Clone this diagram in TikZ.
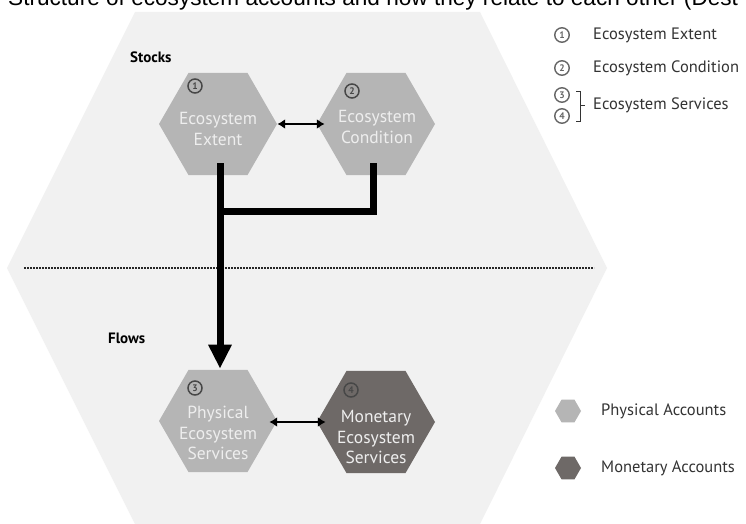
\documentclass[tikz,border=0pt]{standalone}
\usepackage{fontspec}
\setmainfont{PT Sans}
\newfontfamily\titlefont{Liberation Sans}
\usetikzlibrary{shapes.geometric,arrows.meta,calc}
\definecolor{bgcol}{HTML}{F1F1F1}
\definecolor{physcol}{HTML}{B5B5B5}
\definecolor{moncol}{HTML}{6E6967}
\definecolor{numcol}{HTML}{474747}
\definecolor{legnum}{HTML}{666666}
\definecolor{txtcol}{HTML}{333333}
\definecolor{intxt}{HTML}{EEEEEE}
\tikzset{
  hexphys/.style={regular polygon, regular polygon sides=6, minimum size=118pt, inner sep=0pt, fill=physcol, draw=none},
  hexmon/.style={hexphys, fill=moncol},
  hexleg/.style={regular polygon, regular polygon sides=6, minimum size=26pt, inner sep=0pt, draw=none},
  hextext/.style={text=intxt, font=\fontsize{17.5}{20.5}\selectfont, align=center, inner sep=0pt},
  numc/.style={circle, draw=numcol, line width=1.5pt, inner sep=0pt, minimum size=14pt, text=numcol, font=\fontsize{9.5}{10}\selectfont\bfseries},
  legc/.style={numc, draw=legnum, text=legnum, line width=1.4pt, minimum size=14.5pt, font=\fontsize{9.5}{10}\selectfont\bfseries},
  legtext/.style={anchor=west, text=txtcol, font=\fontsize{16.5}{18}\selectfont, inner sep=0pt},
  headtext/.style={anchor=west, text=black, font=\fontsize{15}{17}\selectfont\bfseries, inner sep=0pt},
  dbl/.style={line width=2.6pt, {Latex[length=8pt,width=10pt]}-{Latex[length=8pt,width=10pt]}},
  thickline/.style={line width=7pt, line join=miter},
  sepline/.style={line width=2pt, dash pattern=on 2pt off 1pt, color=black!85}
}
\begin{document}
\begin{tikzpicture}[x=1pt,y=-1pt]
\useasboundingbox (0,0) rectangle (746,524);
\fill[white] (0,0) rectangle (746,524);
% title (cut off at the top edge, as in the reference)
\node[anchor=base west, inner sep=0pt, font=\titlefont\fontsize{22.6}{25}\selectfont] (title) at (8,6) {Structure of ecosystem accounts and how they relate to each other (Dest};
% large background hexagon
\fill[bgcol] (7,268) -- (135,12) -- (480,12) -- (607,268) -- (480,524) -- (135,524) -- cycle;
% separator
\coordinate (sepL) at (24,268);
\coordinate (sepR) at (594,268);
\draw[sepline] (sepL) -- (sepR);
% headings
\node[headtext] (stocks) at (130,57) {Stocks};
\node[headtext] (flows) at (108,338) {Flows};
% hexagons
\node[hexphys] (E) at (218,124) {};
\node[hexphys] (C) at (376,124) {};
\node[hexphys] (P) at (218,421) {};
\node[hexmon]  (M) at (376,422) {};
% texts
\node[hextext] (tE) at (218,129) {Ecosystem\\Extent};
\node[hextext] (tC) at (377,127) {Ecosystem\\Condition};
\node[hextext] (tP) at (218,433) {Physical\\Ecosystem\\Services};
\node[hextext] (tM) at (376,437) {Monetary\\Ecosystem\\Services};
% numbers
\node[numc] (n1) at (195,86) {1};
\node[numc] (n2) at (352,91) {2};
\node[numc] (n3) at (195,388) {3};
\node[numc] (n4) at (351,390) {4};
% double arrows
\draw[dbl] (E.east) -- ($(C.west)+(8,0)$);
\draw[dbl] ($(P.east)+(-8,1)$) -- ($(M.west)+(9,0)$);
% thick connectors
\coordinate (startE) at ($(E.center)+(2,39)$);
\coordinate (startC) at ($(C.center)+(-3,39)$);
\coordinate (joint) at (220,211);
\draw[thickline, -{Triangle[length=24pt,width=22pt]}] (startE) -- ($(P.north)+(2,-1)$);
\draw[thickline] (startC) |- (joint);
% legend
\node[legc] (l1) at (562,35) {1};
\node[legtext] (lt1) at (593,35) {Ecosystem Extent};
\node[legc] (l2) at (562,68) {2};
\node[legtext] (lt2) at (593,68) {Ecosystem Condition};
\node[legc] (l3) at (562,95) {3};
\node[legc] (l4) at (562,116) {4};
\coordinate (brT) at (576,91);
\coordinate (brB) at (576,121);
\coordinate (brM) at (585,105);
\draw[line width=0.9pt, color=txtcol] (brT) -- (580,91) -- (580,121) -- (brB);
\draw[line width=0.9pt, color=txtcol] (580,105) -- (brM);
\node[legtext] (lt3) at (593,105) {Ecosystem Services};
\node[hexleg, fill=physcol] (lp) at (568,411) {};
\node[legtext] (ltp) at (601,411) {Physical Accounts};
\node[hexleg, fill=moncol] (lm) at (568,468) {};
\node[legtext] (ltm) at (601,468) {Monetary Accounts};
\end{tikzpicture}
\end{document}
